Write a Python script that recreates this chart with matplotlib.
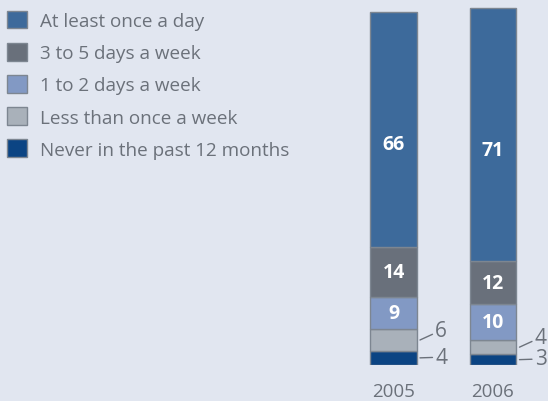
import numpy as np
import matplotlib
matplotlib.use("Agg")
import matplotlib.pyplot as plt

# data
years = ["2005", "2006"]
categories = ["At least once a day", "3 to 5 days a week", "1 to 2 days a week",
              "Less than once a week", "Never in the past 12 months"]
# values per category, order 2005, 2006
daily = [66, 71]
three_five = [14, 12]
one_two = [9, 10]
less_weekly = [6, 4]
never = [4, 3]

colors = ["#3d6a9b", "#69707b", "#8299c4", "#a9b1ba", "#0b4483"]
bg = "#e1e6f0"
grey_txt = "#6b717a"
edge = "#7d8691"

plt.rcParams["font.family"] = ["Open Sans", "DejaVu Sans"]

fig = plt.figure(figsize=(5.48, 4.02), dpi=100, facecolor=bg)
W, H = 548, 402
# bars: centres at px 393.5 / 493, zero line at y=366, 3.57 px per unit
ax = fig.add_axes([343.75 / W, (H - 366) / H, (W - 343.75) / W, 366 / H])
ax.set_facecolor(bg)
ax.set_xlim(-0.5, (W - 393.5) / 99.5)
ax.set_ylim(0, 366 / 3.57)

x = np.arange(len(years))
stack = [never, less_weekly, one_two, three_five, daily]
stack_names = categories[::-1]
stack_colors = colors[::-1]
bottom = np.zeros(len(years))
handles = {}
for vals, name, col in zip(stack, stack_names, stack_colors):
    vals = np.array(vals)
    b = ax.bar(x, vals, width=0.472, bottom=bottom, color=col,
               edgecolor=edge, linewidth=1.0, label=name)
    handles[name] = b
    for i, v in enumerate(vals):
        if v >= 9:
            frac = 0.44 if name == categories[0] else 0.5
            ax.text(x[i], bottom[i] + v * frac, str(v), ha="center", va="center",
                    color="white", fontsize=14, fontweight="bold")
    bottom = bottom + vals

# small values with leader lines
for i in range(len(years)):
    right = x[i] + 0.236 + 0.03
    ax.annotate(str(never[i]), xy=(right, never[i] / 2),
                xytext=(11, 0.5), textcoords="offset points",
                ha="left", va="center", color=grey_txt, fontsize=15,
                arrowprops=dict(arrowstyle="-", color=grey_txt, lw=1.0,
                                shrinkA=0, shrinkB=0))
    ax.annotate(str(less_weekly[i]), xy=(right, never[i] + less_weekly[i] / 2),
                xytext=(11, 7), textcoords="offset points",
                ha="left", va="center", color=grey_txt, fontsize=15,
                arrowprops=dict(arrowstyle="-", color=grey_txt, lw=1.0,
                                shrinkA=0, shrinkB=0))

ax.set_xticks(x, years)
ax.tick_params(axis="x", length=0, pad=12, labelsize=13.5, labelcolor=grey_txt)
ax.set_yticks([])
for s in ax.spines.values():
    s.set_visible(False)

fig.legend([handles[c] for c in categories], categories, loc="upper left",
           bbox_to_anchor=(7 / W, 1 - 11.5 / H), bbox_transform=fig.transFigure,
           frameon=False, fontsize=13.6, labelcolor=grey_txt, borderaxespad=0,
           borderpad=0, handlelength=1.08, handleheight=1.08, handletextpad=0.66,
           labelspacing=0.68)

fig.savefig("out.png", dpi=100, facecolor=bg)
